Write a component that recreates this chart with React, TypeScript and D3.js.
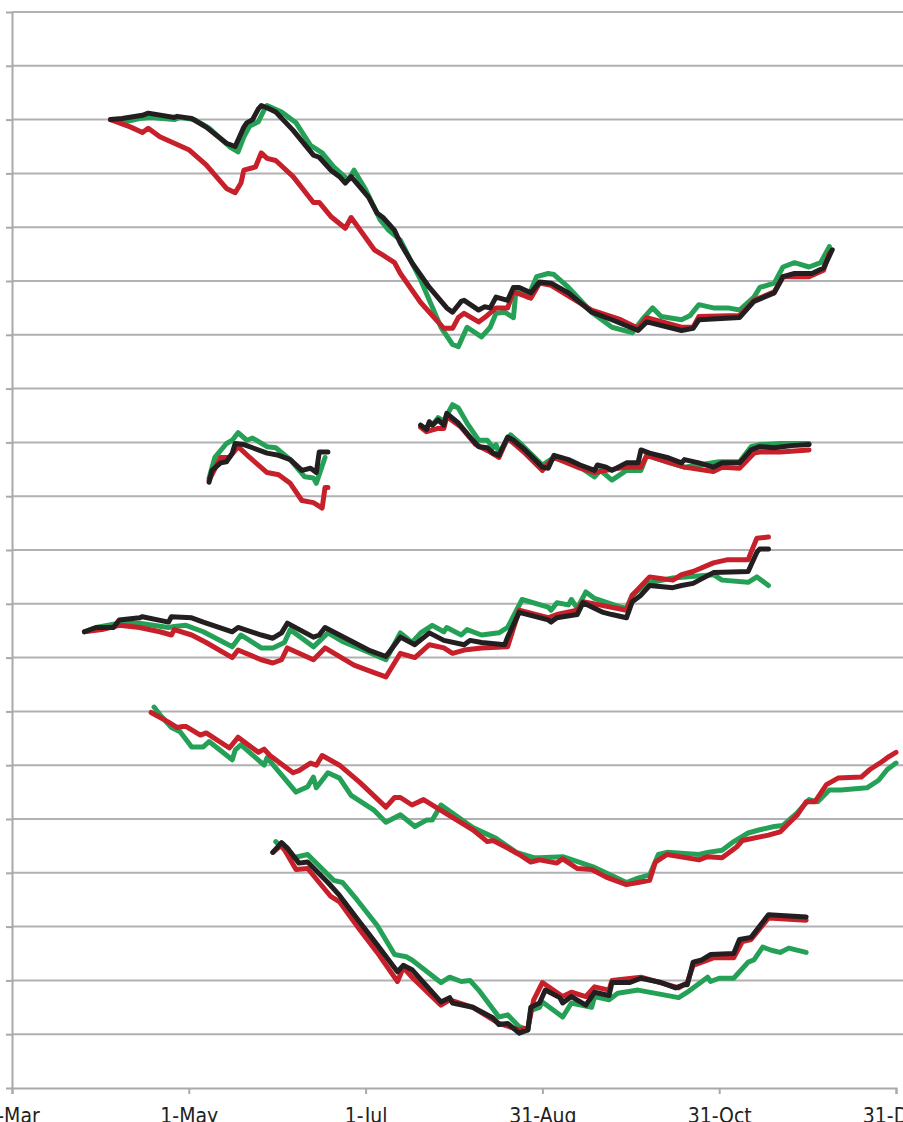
import * as d3 from "d3";
import { useRef, useEffect } from "react";

type Pt = [number, number];

// days are counted from 1 March; values on a 0–100 scale (gridline every 5)
const START = new Date(2013, 2, 1);
const END = new Date(2013, 11, 31);
const tickDays = [0, 61, 122, 183, 244, 305];
const gridValues = d3.range(5, 101, 5);

const group1Black: Pt[] = [
  [34, 90.0], [38, 90.1], [45, 90.4], [47, 90.6], [56, 90.2], [57, 90.3], [62, 90.1], [67, 89.3],
  [74, 87.8], [77, 87.5], [80, 89.3], [81, 89.7], [83, 90.0], [85, 91.0], [86, 91.3], [88, 91.1],
  [91, 90.7], [97, 89.0], [104, 86.7], [106, 86.5], [110, 85.3], [113, 84.7], [115, 84.1], [117, 84.7],
  [123, 82.8], [126, 81.3], [128, 80.9], [132, 79.7], [134, 78.5], [138, 76.7], [144, 74.4], [150, 72.5],
  [152, 72.1], [155, 73.1], [156, 73.2], [161, 72.3], [163, 72.6], [165, 72.5], [167, 73.5], [171, 73.2],
  [173, 74.4], [175, 74.4], [179, 73.9], [182, 74.9], [186, 74.8], [192, 73.9], [200, 72.1], [207, 71.4],
  [216, 70.4], [219, 71.2], [231, 70.4], [235, 70.6], [237, 71.4], [251, 71.6], [256, 73.1], [263, 73.9],
  [266, 75.4], [270, 75.7], [276, 75.7], [280, 76.2], [283, 77.9],
];
const group1Green: Pt[] = [
  [34, 90.0], [39, 89.8], [44, 90.1], [48, 90.2], [56, 90.0], [58, 90.2], [63, 90.0], [68, 89.2],
  [75, 87.5], [78, 87.0], [80, 88.4], [82, 89.4], [85, 89.8], [87, 90.9], [88, 91.3], [93, 90.7],
  [98, 89.7], [103, 87.6], [107, 86.9], [111, 85.6], [116, 84.4], [118, 85.3], [122, 83.5], [127, 80.7],
  [130, 79.7], [134, 78.8], [141, 75.1], [148, 70.7], [152, 69.1], [154, 68.9], [157, 70.7], [162, 69.8],
  [165, 70.7], [167, 72.0], [170, 72.1], [173, 71.6], [174, 74.4], [178, 73.5], [181, 75.4], [185, 75.7],
  [187, 75.6], [192, 74.4], [200, 72.1], [207, 70.7], [214, 70.2], [218, 71.6], [221, 72.5], [224, 71.7],
  [231, 71.4], [234, 71.8], [237, 72.8], [242, 72.5], [247, 72.5], [251, 72.3], [256, 73.5], [258, 74.4],
  [263, 74.8], [266, 76.3], [270, 76.7], [275, 76.3], [279, 76.7], [282, 78.2],
];
const group1Red: Pt[] = [
  [34, 90.0], [41, 89.3], [45, 88.8], [47, 89.2], [51, 88.4], [56, 87.8], [61, 87.2], [67, 85.8],
  [74, 83.6], [77, 83.2], [79, 84.1], [80, 85.3], [84, 85.6], [86, 86.9], [88, 86.4], [91, 86.2],
  [97, 84.7], [104, 82.3], [106, 82.3], [110, 81.0], [115, 79.9], [117, 80.9], [125, 77.9], [128, 77.4],
  [132, 76.7], [134, 75.7], [141, 73.0], [149, 70.6], [152, 70.6], [154, 71.6], [156, 72.0], [161, 71.2],
  [164, 71.8], [167, 72.5], [171, 72.5], [173, 74.0], [179, 73.4], [182, 74.8], [186, 74.6], [200, 72.3],
  [210, 71.4], [216, 70.6], [219, 71.6], [231, 70.7], [235, 70.7], [237, 71.7], [251, 71.8], [256, 73.2],
  [263, 74.0], [266, 75.4], [275, 75.4], [280, 76.0], [282, 77.6],
];

const group2aBlack: Pt[] = [
  [68, 56.3], [69, 57.4], [72, 58.1], [74, 58.2], [76, 59.0], [77, 59.9], [80, 59.8], [83, 59.5],
  [88, 59.0], [92, 58.8], [96, 58.4], [100, 57.4], [103, 57.6], [105, 57.2], [106, 59.1], [109, 59.1],
];
const group2aGreen: Pt[] = [
  [68, 56.7], [70, 58.6], [74, 59.9], [76, 60.2], [78, 60.9], [81, 60.2], [83, 60.4], [88, 59.6],
  [91, 59.5], [96, 58.4], [101, 56.8], [104, 56.7], [105, 56.2], [108, 58.6],
];
const group2aRed: Pt[] = [
  [68, 56.5], [72, 58.6], [75, 58.6], [78, 59.6], [82, 58.6], [88, 57.2], [92, 57.0], [96, 56.2],
  [100, 54.6], [104, 54.4], [107, 53.9], [108, 55.8], [109, 55.8],
];

const group2bBlack: Pt[] = [
  [141, 61.6], [143, 61.2], [144, 61.9], [145, 61.6], [147, 62.1], [149, 61.6], [150, 62.7], [154, 61.8],
  [159, 60.2], [161, 59.6], [164, 59.5], [166, 59.0], [168, 58.8], [171, 60.5], [173, 60.2], [177, 59.3],
  [183, 57.7], [185, 57.6], [187, 58.8], [192, 58.4], [196, 57.9], [201, 57.4], [202, 57.9], [205, 57.7],
  [207, 57.4], [212, 58.1], [216, 58.1], [217, 59.3], [220, 59.0], [226, 58.6], [231, 58.1], [232, 58.4],
  [237, 58.1], [242, 57.7], [245, 58.1], [251, 58.1], [255, 59.3], [258, 59.6], [263, 59.5], [269, 59.7],
  [275, 59.8],
];
const group2bGreen: Pt[] = [
  [141, 61.6], [143, 61.2], [144, 61.9], [145, 61.6], [147, 62.3], [149, 62.0], [152, 63.5], [154, 63.2],
  [157, 61.8], [161, 60.2], [164, 60.2], [166, 59.5], [167, 59.8], [168, 59.0], [172, 60.7], [175, 60.0],
  [183, 57.9], [187, 58.6], [196, 57.7], [201, 56.8], [203, 57.4], [207, 56.5], [212, 57.4], [217, 57.4],
  [219, 58.8], [226, 58.2], [232, 57.7], [237, 57.9], [244, 58.2], [251, 58.2], [255, 59.6], [258, 59.8],
  [265, 59.9], [275, 59.9],
];
const group2bRed: Pt[] = [
  [141, 61.4], [143, 61.0], [147, 61.3], [149, 61.3], [150, 62.4], [155, 61.4], [160, 59.8], [165, 59.1],
  [168, 58.6], [171, 60.4], [177, 59.0], [183, 57.4], [187, 58.6], [196, 57.6], [201, 57.2], [205, 57.4],
  [212, 57.7], [217, 57.7], [219, 58.8], [226, 58.2], [232, 57.7], [242, 57.3], [245, 57.7], [251, 57.6],
  [256, 59.0], [258, 59.1], [265, 59.1], [275, 59.3],
];

const group3Black: Pt[] = [
  [25, 42.4], [29, 42.8], [35, 42.8], [37, 43.5], [44, 43.7], [45, 43.8], [54, 43.3], [55, 43.8],
  [62, 43.7], [66, 43.3], [76, 42.4], [78, 42.8], [86, 42.1], [90, 41.8], [93, 42.3], [95, 43.2],
  [104, 41.9], [106, 42.1], [108, 42.8], [113, 42.1], [123, 40.7], [129, 40.1], [134, 41.9], [139, 41.2],
  [144, 42.3], [149, 41.6], [156, 41.2], [158, 41.6], [162, 41.4], [170, 41.2], [171, 41.9], [175, 44.2],
  [185, 43.5], [186, 43.3], [188, 43.7], [195, 44.0], [197, 45.1], [204, 44.2], [207, 44.0], [212, 43.7],
  [214, 45.2], [217, 45.8], [220, 46.7], [228, 46.5], [231, 46.7], [235, 46.9], [242, 47.9], [254, 48.0],
  [255, 48.6], [257, 49.8], [258, 50.1], [261, 50.1],
];
const group3Green: Pt[] = [
  [25, 42.4], [29, 42.8], [37, 43.2], [44, 43.2], [54, 42.8], [56, 42.9], [60, 43.0], [66, 42.4],
  [76, 41.0], [79, 42.1], [86, 40.9], [90, 40.9], [94, 41.4], [96, 42.6], [104, 41.0], [109, 42.3],
  [114, 41.5], [123, 40.5], [129, 39.8], [134, 42.3], [138, 41.4], [141, 42.3], [145, 43.0], [149, 42.4],
  [150, 42.8], [155, 42.1], [157, 42.6], [162, 42.1], [168, 42.3], [171, 42.8], [176, 45.4], [185, 44.7],
  [186, 44.4], [188, 45.1], [192, 44.9], [193, 45.4], [195, 44.6], [198, 46.1], [201, 45.5], [210, 44.7],
  [212, 44.6], [214, 45.8], [219, 46.9], [228, 47.4], [242, 47.7], [245, 47.2], [254, 47.0], [257, 47.5],
  [261, 46.7],
];
const group3Red: Pt[] = [
  [25, 42.4], [31, 42.6], [37, 43.0], [44, 42.8], [51, 42.4], [55, 42.1], [56, 42.6], [62, 42.1],
  [67, 41.4], [76, 40.0], [78, 40.7], [86, 39.8], [90, 39.5], [93, 39.8], [95, 40.9], [104, 39.8],
  [108, 40.9], [118, 39.3], [124, 38.7], [129, 38.2], [134, 40.4], [139, 40.0], [144, 41.2], [149, 40.9],
  [152, 40.4], [156, 40.7], [162, 40.9], [171, 41.0], [175, 44.4], [185, 43.7], [188, 44.0], [195, 44.4],
  [197, 45.2], [212, 44.4], [214, 45.8], [220, 47.5], [228, 47.2], [231, 47.7], [235, 48.0], [242, 48.8],
  [247, 49.1], [254, 49.1], [255, 49.8], [257, 51.1], [261, 51.2],
];

const group4Green: Pt[] = [
  [49, 35.4], [51, 34.7], [55, 33.5], [58, 33.1], [62, 31.7], [66, 31.7], [68, 32.2], [76, 30.5],
  [77, 31.4], [79, 31.9], [87, 30.0], [88, 30.7], [98, 27.5], [102, 28.0], [104, 28.9], [105, 27.9],
  [109, 29.3], [113, 28.8], [117, 27.2], [125, 25.8], [129, 24.7], [134, 25.4], [139, 24.3], [143, 24.9],
  [145, 24.9], [148, 26.3], [159, 24.2], [167, 23.2], [174, 21.9], [180, 21.4], [182, 21.4], [190, 21.5],
  [201, 20.5], [212, 19.1], [216, 19.5], [220, 19.8], [223, 21.7], [226, 21.9], [237, 21.7], [240, 21.9],
  [245, 22.1], [249, 22.9], [254, 23.7], [258, 24.0], [263, 24.3], [266, 24.4], [271, 25.6], [275, 26.8],
  [278, 26.6], [282, 27.7], [286, 27.7], [295, 27.9], [299, 28.6], [302, 29.6], [305, 30.2],
];
const group4Red: Pt[] = [
  [48, 34.9], [54, 34.0], [57, 33.5], [59, 33.6], [60, 33.6], [65, 32.8], [67, 33.0], [75, 31.6],
  [78, 32.6], [85, 31.2], [87, 31.5], [89, 30.9], [97, 29.3], [99, 29.5], [103, 30.2], [105, 30.0],
  [107, 30.9], [113, 30.0], [120, 28.4], [129, 26.1], [132, 27.0], [134, 27.0], [138, 26.3], [142, 26.8],
  [148, 25.8], [159, 24.0], [164, 22.9], [166, 23.0], [171, 22.3], [175, 21.7], [179, 21.0], [182, 21.2],
  [188, 20.9], [190, 21.3], [195, 20.4], [200, 20.3], [205, 19.6], [212, 18.9], [216, 19.1], [220, 19.3],
  [222, 21.0], [226, 21.7], [237, 21.2], [240, 21.5], [245, 21.4], [250, 22.4], [252, 23.0], [261, 23.5],
  [265, 23.8], [268, 24.6], [271, 25.4], [274, 26.6], [277, 26.6], [281, 28.2], [285, 28.8], [293, 28.9],
  [296, 29.6], [300, 30.3], [302, 30.7], [305, 31.2],
];

const group5Black: Pt[] = [
  [90, 21.9], [93, 22.8], [95, 22.3], [99, 20.9], [102, 21.0], [109, 19.1], [113, 17.9], [120, 15.4],
  [126, 13.3], [133, 10.8], [135, 11.4], [138, 11.0], [148, 8.0], [151, 8.4], [152, 7.9], [159, 7.5],
  [166, 6.5], [168, 5.9], [171, 6.0], [175, 5.1], [178, 5.4], [179, 7.5], [182, 7.9], [184, 9.1],
  [189, 8.4], [190, 7.9], [193, 8.5], [198, 7.7], [201, 8.9], [206, 8.6], [207, 9.8], [213, 9.8],
  [217, 10.2], [224, 9.8], [229, 9.3], [232, 9.6], [233, 9.6], [235, 11.7], [238, 11.9], [241, 12.4],
  [249, 12.5], [251, 13.8], [255, 14.0], [261, 16.1], [274, 15.9],
];
const group5Green: Pt[] = [
  [91, 22.9], [97, 21.4], [102, 21.7], [111, 19.3], [114, 19.1], [119, 17.5], [126, 15.1], [132, 12.4],
  [136, 12.2], [138, 11.9], [148, 9.8], [151, 10.3], [155, 9.9], [158, 10.0], [161, 9.1], [168, 6.6],
  [171, 6.8], [175, 5.7], [178, 5.4], [179, 7.2], [182, 7.5], [183, 8.0], [190, 6.6], [193, 7.9],
  [200, 7.5], [201, 8.5], [206, 8.2], [209, 8.8], [216, 9.1], [230, 8.4], [233, 8.9], [240, 10.3],
  [241, 9.9], [244, 10.2], [249, 10.2], [254, 11.7], [256, 11.9], [259, 13.1], [262, 12.8], [265, 12.6],
  [268, 13.0], [274, 12.6],
];
const group5Red: Pt[] = [
  [90, 21.9], [93, 22.6], [98, 20.3], [102, 20.4], [110, 17.8], [113, 17.3], [120, 14.7], [126, 12.6],
  [133, 9.9], [135, 11.2], [138, 10.3], [148, 7.7], [151, 8.2], [159, 7.5], [168, 6.0], [175, 5.4],
  [178, 5.6], [180, 8.2], [183, 9.8], [190, 8.5], [193, 8.9], [198, 8.5], [201, 9.4], [206, 9.1],
  [207, 10.0], [217, 10.3], [230, 9.3], [233, 9.8], [235, 11.4], [242, 12.1], [249, 12.1], [252, 13.6],
  [255, 13.8], [261, 15.8], [274, 15.6],
];

const GREEN = "#25a157";
const RED = "#c7202b";
const BLACK = "#231f20";

const series: { data: Pt[]; color: string }[] = [
  { data: group1Green, color: GREEN },
  { data: group1Red, color: RED },
  { data: group1Black, color: BLACK },
  { data: group2aGreen, color: GREEN },
  { data: group2aRed, color: RED },
  { data: group2aBlack, color: BLACK },
  { data: group2bGreen, color: GREEN },
  { data: group2bRed, color: RED },
  { data: group2bBlack, color: BLACK },
  { data: group3Green, color: GREEN },
  { data: group3Red, color: RED },
  { data: group3Black, color: BLACK },
  { data: group4Green, color: GREEN },
  { data: group4Red, color: RED },
  { data: group5Green, color: GREEN },
  { data: group5Red, color: RED },
  { data: group5Black, color: BLACK },
];

export default function App() {
  const width = 903;
  const height = 1122;
  const marginLeft = 12;
  const marginTop = 12;
  const marginBottom = 34;
  const plotRight = 896;

  const gx = useRef<SVGGElement | null>(null);
  const gy = useRef<SVGGElement | null>(null);

  const x = d3.scaleTime([START, END], [marginLeft, plotRight]);
  const y = d3.scaleLinear([0, 100], [height - marginBottom, marginTop]);
  const day = (d: number) => d3.timeDay.offset(START, d);

  const line = d3.line<Pt>()
    .x((d) => x(day(d[0])))
    .y((d) => y(d[1]));

  useEffect(() => {
    if (gx.current) {
      const g = d3.select(gx.current);
      g.call(
        d3.axisBottom(x)
          .tickValues(tickDays.map(day))
          .tickFormat((d) => d3.timeFormat("%-d-%b")(d as Date))
          .tickSize(6)
          .tickPadding(14)
      );
      g.select(".domain").attr("stroke", "#a9a9ab").attr("stroke-width", 2);
      g.selectAll(".tick line").attr("stroke", "#a9a9ab").attr("stroke-width", 2);
      g.selectAll(".tick text")
        .attr("fill", "#222")
        .style("font-family", "'DejaVu Sans Condensed', 'DejaVu Sans', sans-serif")
        .style("font-stretch", "condensed")
        .style("font-size", "21px");
    }
    if (gy.current) {
      const g = d3.select(gy.current);
      g.call(d3.axisLeft(y).tickValues(d3.range(0, 101, 5)).tickFormat(() => "").tickSize(6).tickSizeOuter(0));
      g.select(".domain").attr("stroke", "#a9a9ab").attr("stroke-width", 2);
      g.selectAll(".tick line").attr("stroke", "#a9a9ab").attr("stroke-width", 2);
    }
  }, []);

  return (
    <svg
      width={width}
      height={height}
      style={{ position: "absolute", left: 0, top: 0, background: "#fff" }}
    >
      <g stroke="#b1b1b3" strokeWidth={2}>
        {gridValues.map((v) => (
          <line key={v} x1={marginLeft} x2={width} y1={y(v)} y2={y(v)} />
        ))}
      </g>
      <g ref={gy} transform={`translate(${marginLeft},0)`} />
      <g ref={gx} transform={`translate(0,${height - marginBottom})`} />
      <g fill="none" strokeWidth={5} strokeLinejoin="round" strokeLinecap="round">
        {series.map((s, i) => (
          <path key={i} d={line(s.data) ?? undefined} stroke={s.color} />
        ))}
      </g>
    </svg>
  );
}
